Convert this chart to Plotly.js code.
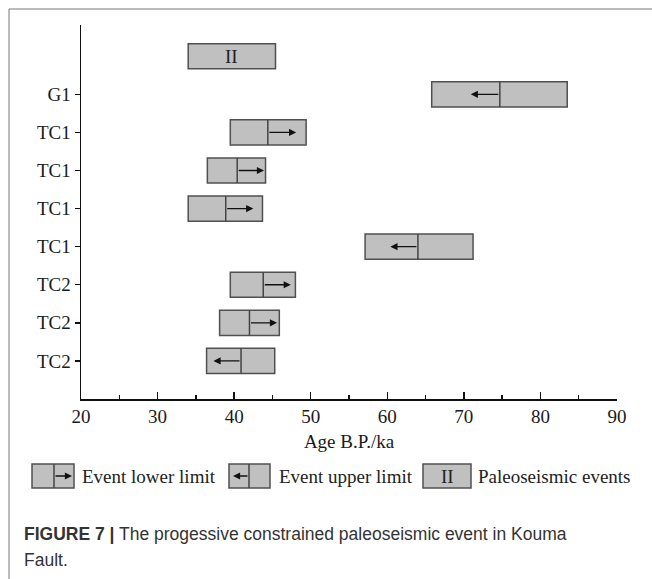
<!DOCTYPE html>
<html>
<head>
<meta charset="utf-8">
<script src="https://cdn.plot.ly/plotly-3.0.1.min.js"></script>
<style>html,body{margin:0;padding:0;background:#fff;}#chart{width:652px;height:579px;}</style>
</head>
<body>
<div id="chart"></div>
<script>
// Data (top to bottom, as in the figure)
const rowLabels   = ['G1','TC1','TC1','TC1','TC1','TC2','TC2','TC2'];
const ageStart    = [65.8, 39.5, 36.5, 34.0, 57.1, 39.5, 38.1, 36.4];
const ageEnd      = [83.5, 49.4, 44.1, 43.7, 71.2, 48.0, 45.9, 45.3];
const ageDivide   = [74.7, 44.4, 40.4, 38.9, 64.0, 43.8, 42.0, 40.9];
const arrowTip    = [70.9, 48.1, 43.9, 42.5, 60.4, 47.4, 45.6, 37.3];
const eventLabel  = ['II'];
const eventStart  = [34.0];
const eventEnd    = [45.4];
const xTickVals   = [20,30,40,50,60,70,80,90];

const nRows = rowLabels.length;
const rowY = rowLabels.map((_, i) => nRows - i);   // 8 .. 1
const eventY = [nRows + 1];                          // 9

const FILL = '#c0c0c0', EDGE = '#505050';
const SERIF = 'Liberation Serif, Times New Roman, serif';
const SANS = 'Liberation Sans, Arial, sans-serif';
const HALF = 0.33;

// Pixel helpers for paper-positioned decoration (plot area 81..617 x 25..399)
const PL = 81, PR = 617, PT = 25, PB = 399;
const px = v => (v - PL) / (PR - PL);
const py = v => (PB - v) / (PB - PT);

const traces = [
  {
    type: 'bar', orientation: 'h',
    y: rowY.concat(eventY),
    x: ageEnd.map((e, i) => e - ageStart[i]).concat(eventEnd.map((e, i) => e - eventStart[i])),
    base: ageStart.concat(eventStart),
    width: 2 * HALF,
    marker: {color: FILL, line: {color: EDGE, width: 1.5}},
    hoverinfo: 'skip', showlegend: false
  }
];

const shapes = [];
const annotations = [];

rowY.forEach((y, i) => {
  shapes.push({type: 'line', xref: 'x', yref: 'y', x0: ageDivide[i], x1: ageDivide[i],
    y0: y - HALF, y1: y + HALF, line: {color: '#444', width: 1.5}});
  annotations.push({xref: 'x', yref: 'y', axref: 'x', ayref: 'y',
    x: arrowTip[i], y: y, ax: ageDivide[i], ay: y, text: '', showarrow: true,
    arrowhead: 2, arrowsize: 1.1, arrowwidth: 1.3, arrowcolor: '#111', standoff: 0, startstandoff: 0});
});
eventY.forEach((y, i) => {
  annotations.push({xref: 'x', yref: 'y', x: (eventStart[i] + eventEnd[i]) / 2, y: y,
    yanchor: 'middle', xanchor: 'center',
    text: eventLabel[i], showarrow: false, font: {family: SERIF, size: 19, color: '#222'}});
});

// Frame
shapes.push({type: 'line', xref: 'paper', yref: 'paper', x0: px(9), x1: px(652), y0: py(9), y1: py(9), line: {color: '#777', width: 1}});
shapes.push({type: 'line', xref: 'paper', yref: 'paper', x0: px(9), x1: px(9), y0: py(9), y1: py(579), line: {color: '#777', width: 1}});

// Legend
const LY0 = 464, LY1 = 488, LYC = 476;
function legBox(x0, x1) {
  shapes.push({type: 'rect', xref: 'paper', yref: 'paper', x0: px(x0), x1: px(x1), y0: py(LY1), y1: py(LY0),
    fillcolor: FILL, line: {color: EDGE, width: 1.5}});
}
function legDiv(x) {
  shapes.push({type: 'line', xref: 'paper', yref: 'paper', x0: px(x), x1: px(x), y0: py(LY1), y1: py(LY0),
    line: {color: '#444', width: 1.5}});
}
function legArrow(tip, tail) {
  annotations.push({xref: 'paper', yref: 'paper', x: px(tip), y: py(LYC), ax: tail - tip, ay: 0,
    text: '', showarrow: true, arrowhead: 2, arrowsize: 1.1, arrowwidth: 1.3, arrowcolor: '#111', standoff: 0});
}
function legText(x, t) {
  annotations.push({xref: 'paper', yref: 'paper', x: px(x), y: py(LYC), xanchor: 'left', yanchor: 'middle',
    text: t, showarrow: false, font: {family: SERIF, size: 19, color: '#222'}});
}
legBox(32, 74); legDiv(54); legArrow(72, 54); legText(80, 'Event lower limit');
legBox(229, 270); legDiv(249); legArrow(233, 249); legText(277, 'Event upper limit');
legBox(423, 471);
annotations.push({xref: 'paper', yref: 'paper', x: px(447), y: py(LYC), xanchor: 'center', yanchor: 'middle',
  text: 'II', showarrow: false, font: {family: SERIF, size: 19, color: '#222'}});
legText(476, 'Paleoseismic events');

// Caption
annotations.push({xref: 'paper', yref: 'paper', x: px(22), y: py(534), xanchor: 'left', yanchor: 'middle',
  text: '<b>FIGURE 7 |</b> The progessive constrained paleoseismic event in Kouma', showarrow: false,
  font: {family: SANS, size: 17.5, color: '#333'}});
annotations.push({xref: 'paper', yref: 'paper', x: px(22), y: py(560), xanchor: 'left', yanchor: 'middle',
  text: 'Fault.', showarrow: false, font: {family: SANS, size: 17.5, color: '#333'}});

const layout = {
  width: 652, height: 579,
  margin: {l: PL, r: 652 - PR, t: PT, b: 579 - PB, pad: 0},
  paper_bgcolor: '#fff', plot_bgcolor: '#fff',
  showlegend: false,
  font: {family: SERIF, size: 18, color: '#1a1a1a'},
  xaxis: {
    range: [20, 90], tickvals: xTickVals, ticks: 'inside', ticklen: 7, tickwidth: 1.5, tickcolor: '#111',
    minor: {dtick: 5, tick0: 20, ticks: 'inside', ticklen: 4, tickwidth: 1.5, tickcolor: '#111'},
    showline: true, linecolor: '#111', linewidth: 1.5, showgrid: false, zeroline: false,
    tickfont: {family: SERIF, size: 19, color: '#1a1a1a'},
    title: {text: 'Age B.P./ka', font: {family: SERIF, size: 19, color: '#1a1a1a'}, standoff: 8},
    fixedrange: true
  },
  yaxis: {
    range: [0, 9.82], tickvals: rowY, ticktext: rowLabels, ticks: 'outside', ticklen: 5, tickwidth: 1.5, tickcolor: '#111',
    showline: true, linecolor: '#111', linewidth: 1.5, showgrid: false, zeroline: false,
    tickfont: {family: SERIF, size: 19, color: '#1a1a1a'}, fixedrange: true
  },
  shapes: shapes,
  annotations: annotations
};

Plotly.newPlot('chart', traces, layout, {displayModeBar: false, staticPlot: true});
</script>
</body>
</html>
